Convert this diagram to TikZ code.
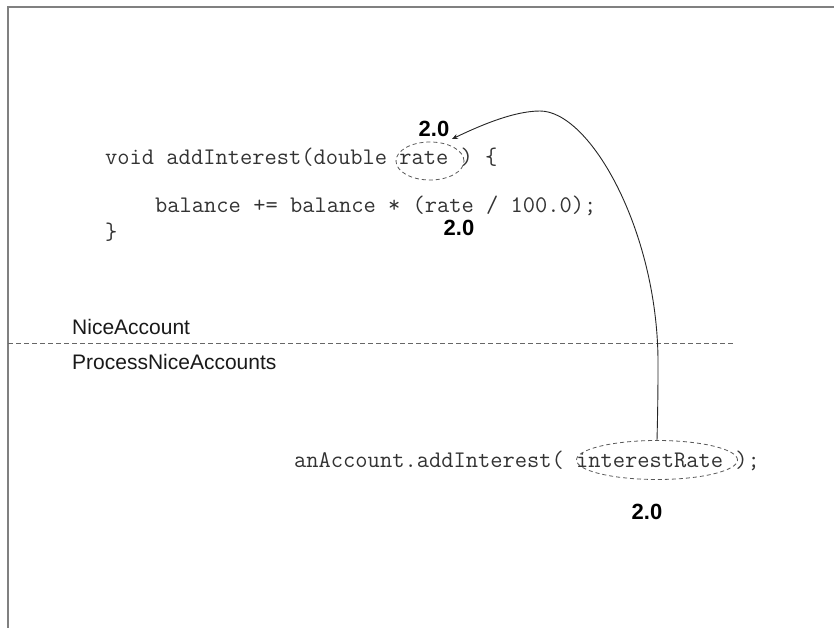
\documentclass[tikz,border=0pt]{standalone}
\usepackage{fontspec}
\setmainfont{Liberation Sans}
\usetikzlibrary{shapes.geometric,arrows.meta}
\begin{document}
\begin{tikzpicture}[x=1pt,y=-1pt,
  codetxt/.style={font=\ttfamily\fontsize{23.8}{26}\selectfont, anchor=base west, inner sep=0pt, text=black!80},
  clstxt/.style={font=\fontsize{21}{24}\selectfont, anchor=base west, inner sep=0pt, text=black!90},
  valtxt/.style={font=\bfseries\fontsize{22}{24}\selectfont, inner sep=0pt},
  hl/.style={draw=black!65, dash pattern=on 4pt off 3pt, ellipse, inner sep=0pt, line width=0.8pt},
  frame/.style={draw=black!50, line width=1.5pt},
  divider/.style={draw=black!60, dash pattern=on 5pt off 3pt, line width=0.9pt},
  link/.style={draw=black!85, line width=0.9pt, -{Stealth[length=6pt,width=5pt]}}]
\useasboundingbox (0,0) rectangle (834,628);
% frame
\coordinate (fb) at (8,628);
\coordinate (fc) at (8,7);
\coordinate (fr) at (834,7);
\draw[frame] (fb) -- (fc) -- (fr);
% code of NiceAccount
\node[codetxt] (l1) at (105,165) {void addInterest(double rate ) \{};
\node[codetxt] (l2) at (155,212) {balance += balance * (rate / 100.0);};
\node[codetxt] (l3) at (105,240) {\}};
\node[hl, minimum width=68pt, minimum height=38pt] (rateE) at (430,161) {};
\node[valtxt] (v1) at (434,129) {2.0};
\node[valtxt] (v2) at (459,228) {2.0};
% class labels and divider
\node[clstxt] (c1) at (72,334) {NiceAccount};
\node[clstxt] (c2) at (72,369) {ProcessNiceAccounts};
\coordinate (dl) at (8,343);
\coordinate (dr) at (735,343);
\draw[divider] (dl) -- (dr);
% calling code
\node[codetxt] (l4) at (294,467) {anAccount.addInterest( interestRate );};
\node[hl, minimum width=161pt, minimum height=39pt] (irE) at (657,460) {};
\node[valtxt] (v3) at (647,512) {2.0};
% connector
\coordinate (tip) at (452,139);
\draw[link] (irE.north) .. controls (658,400) and (658,380) .. (658,360)
  .. controls (657,230) and (590,111) .. (540,111)
  .. controls (512,111) and (475,128) .. (tip);
\end{tikzpicture}
\end{document}
